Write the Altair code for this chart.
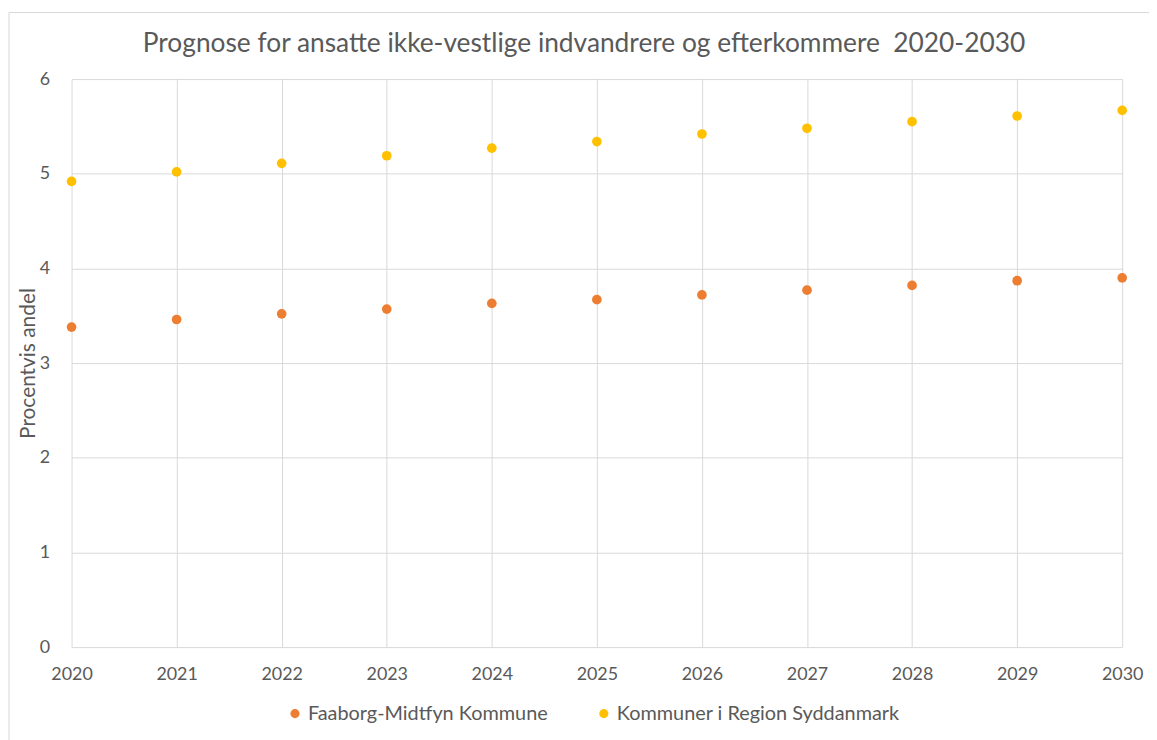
import altair as alt
import pandas as pd

years = [2020, 2021, 2022, 2023, 2024, 2025, 2026, 2027, 2028, 2029, 2030]
faaborg = [3.38, 3.46, 3.52, 3.57, 3.63, 3.67, 3.72, 3.77, 3.82, 3.87, 3.90]
region = [4.92, 5.02, 5.11, 5.19, 5.27, 5.34, 5.42, 5.48, 5.55, 5.61, 5.67]
series_names = ["Faaborg-Midtfyn Kommune", "Kommuner i Region Syddanmark"]
series_colors = ["#ED7D31", "#FFC000"]

rows = []
for y, a, b in zip(years, faaborg, region):
    rows.append({"År": y, "Serie": series_names[0], "Værdi": a})
    rows.append({"År": y, "Serie": series_names[1], "Værdi": b})
df = pd.DataFrame(rows)

FONT = "Lato"
TXT = "#595959"
GRID = "#D9D9D9"
W, H = 1058, 572
PL, PT, PR, PB = 64, 69, 27, 91

border = alt.Chart(pd.DataFrame({"a": [0]})).mark_rect(
    fill="white", fillOpacity=0, stroke=GRID, strokeWidth=1
).encode(
    x=alt.value(-PL + 1), x2=alt.value(W + PR + 10),
    y=alt.value(-PT + 2), y2=alt.value(H + PB + 10),
)

points = alt.Chart(df).mark_circle(size=95, opacity=1).encode(
    x=alt.X("År:Q", scale=alt.Scale(domain=[2020, 2030], nice=False, zero=False),
            axis=alt.Axis(values=years, format="d", title=None, grid=True,
                          gridColor=GRID, domain=False, ticks=False,
                          labelFlush=False, labelBound=False, labelOverlap=False,
                          labelPadding=19, labelFontSize=18, labelColor=TXT,
                          labelFont=FONT)),
    y=alt.Y("Værdi:Q", scale=alt.Scale(domain=[0, 6], nice=False),
            axis=alt.Axis(values=[0, 1, 2, 3, 4, 5, 6], title="Procentvis andel",
                          grid=True, gridColor=GRID, domain=False, ticks=False,
                          labelPadding=22, labelFontSize=18, labelColor=TXT,
                          labelFont=FONT, titleFont=FONT, titleFontSize=21,
                          titleColor=TXT, titleFontWeight="normal", titlePadding=1)),
    color=alt.Color("Serie:N", scale=alt.Scale(domain=series_names, range=series_colors),
                    legend=alt.Legend(title=None, orient="none", direction="horizontal",
                                      legendX=215, legendY=629, symbolType="circle",
                                      symbolSize=85, symbolStrokeWidth=0,
                                      labelFontSize=20, labelColor=TXT,
                                      labelFont=FONT, labelLimit=0, columnPadding=46,
                                      labelOffset=3)),
)

chart = alt.layer(border, points).properties(
    width=W, height=H,
    title=alt.TitleParams(
        "Prognose for ansatte ikke-vestlige indvandrere og efterkommere\u00a0 2020-2030",
        font=FONT, fontSize=26.5, fontWeight="normal", color=TXT, offset=-46, dx=-13,
    ),
    autosize=alt.AutoSizeParams(type="none"),
    padding={"left": PL, "top": PT, "right": PR, "bottom": PB},
).configure_view(stroke=None)

chart.save("out.html", embed_options={"renderer": "svg", "actions": False})
